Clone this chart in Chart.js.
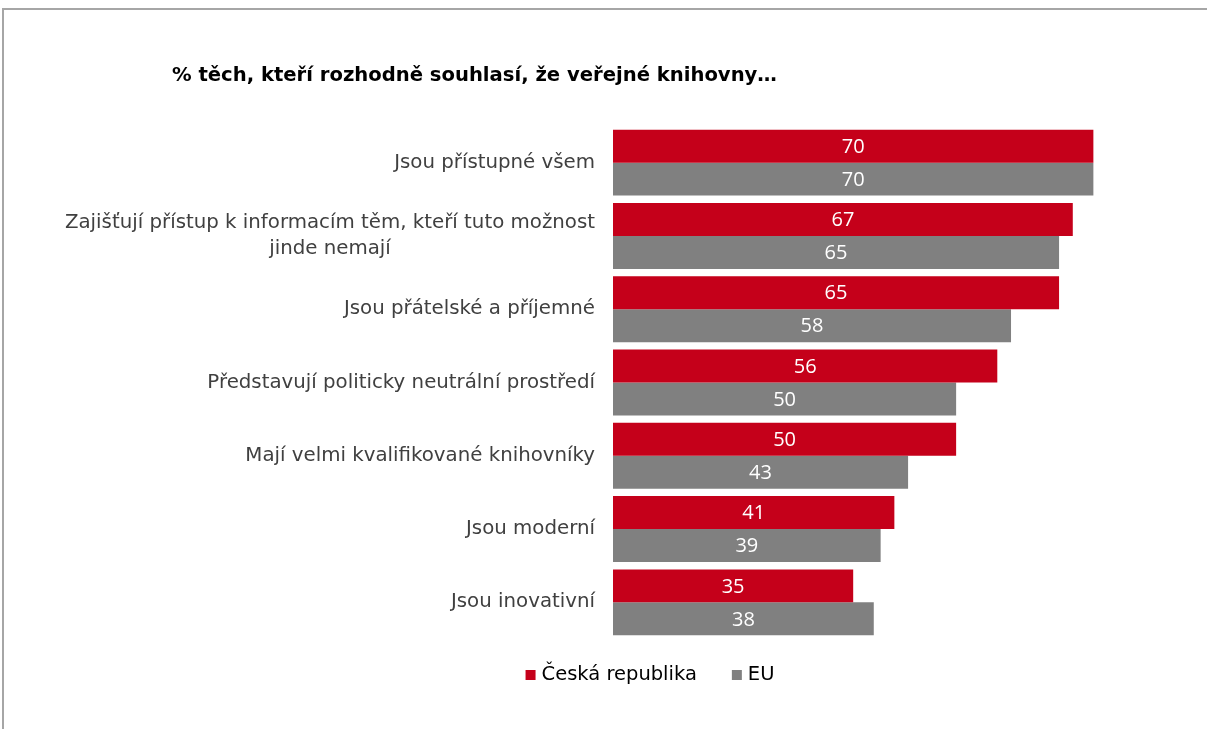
<!DOCTYPE html>
<html>
<head>
<meta charset="utf-8">
<script src="https://cdn.jsdelivr.net/npm/chart.js@4"></script>
<style>
  html, body { margin: 0; padding: 0; background: #fff; overflow: hidden; }
  #frame {
    position: absolute; left: 2px; top: 8px;
    width: 1400px; height: 900px;
    border-top: 2px solid #a6a6a6; border-left: 2px solid #a6a6a6;
  }
  #wrap { position: absolute; left: 0; top: 0; width: 1207px; height: 729px; }
</style>
</head>
<body>
<div id="frame"></div>
<div id="wrap"><canvas id="chart" width="1207" height="729"></canvas></div>
<script>
const titleText = '% těch, kteří rozhodně souhlasí, že veřejné knihovny…';
const categories = [
  ['Jsou přístupné všem'],
  ['Zajišťují přístup k informacím těm, kteří tuto možnost', 'jinde nemají'],
  ['Jsou přátelské a příjemné'],
  ['Představují politicky neutrální prostředí'],
  ['Mají velmi kvalifikované knihovníky'],
  ['Jsou moderní'],
  ['Jsou inovativní']
];
const czValues = [70, 67, 65, 56, 50, 41, 35];
const euValues = [70, 65, 58, 50, 43, 39, 38];
const seriesNames = ['Česká republika', 'EU'];

const RED = '#c5001a';
const GRAY = '#808080';
const LABEL_FONT = '"DejaVu Sans", Verdana, sans-serif';

// draws title, category labels, values inside bars and the legend
const decorations = {
  id: 'decorations',
  afterDraw(chart) {
    const ctx = chart.ctx;
    const yScale = chart.scales.y;
    ctx.save();

    // title
    ctx.fillStyle = '#000';
    ctx.font = 'bold 19.6px ' + LABEL_FONT;
    ctx.textAlign = 'left';
    ctx.textBaseline = 'middle';
    ctx.fillText(titleText, 172, 76);

    // category labels, each block right aligned, lines centred in the block
    ctx.font = '19.8px ' + LABEL_FONT;
    ctx.fillStyle = '#404040';
    ctx.textAlign = 'center';
    const lineH = 26;
    const rightEdge = chart.chartArea.left - 18;
    categories.forEach((lines, i) => {
      const yc = yScale.getPixelForValue(i);
      const w = Math.max(...lines.map(l => ctx.measureText(l).width));
      const xc = rightEdge - w / 2;
      const y0 = yc - (lines.length - 1) * lineH / 2;
      lines.forEach((l, k) => ctx.fillText(l, xc, y0 + k * lineH));
    });

    // values inside bars
    ctx.font = '20px "Open Sans", sans-serif';
    ctx.fillStyle = '#fff';
    chart.data.datasets.forEach((ds, di) => {
      chart.getDatasetMeta(di).data.forEach((bar, i) => {
        ctx.fillText(String(ds.data[i]), (bar.base + bar.x) / 2, bar.y + 1);
      });
    });

    // legend
    ctx.font = '19.5px ' + LABEL_FONT;
    ctx.textAlign = 'left';
    const box = 10, gap = 6, itemGap = 35;
    const items = chart.data.datasets.map(ds => ({
      text: ds.label, color: ds.backgroundColor, w: box + gap + ctx.measureText(ds.label).width
    }));
    const total = items.reduce((s, it) => s + it.w, 0) + itemGap * (items.length - 1);
    let x = 650 - total / 2;
    const ly = 675;
    items.forEach(it => {
      ctx.fillStyle = it.color;
      ctx.fillRect(x, ly - box / 2, box, box);
      ctx.fillStyle = '#000';
      ctx.fillText(it.text, x + box + gap, ly);
      x += it.w + itemGap;
    });

    ctx.restore();
  }
};

new Chart(document.getElementById('chart'), {
  type: 'bar',
  data: {
    labels: categories,
    datasets: [
      { label: seriesNames[0], data: czValues, backgroundColor: RED },
      { label: seriesNames[1], data: euValues, backgroundColor: GRAY }
    ]
  },
  options: {
    indexAxis: 'y',
    responsive: false,
    animation: false,
    layout: { padding: { left: 613, right: 45, top: 126, bottom: 90 } },
    categoryPercentage: 0.9,
    barPercentage: 1.0,
    scales: {
      x: { display: false, min: 0, max: 80 },
      y: { display: false }
    },
    plugins: {
      legend: { display: false },
      tooltip: { enabled: false }
    }
  },
  plugins: [decorations]
});
</script>
</body>
</html>
